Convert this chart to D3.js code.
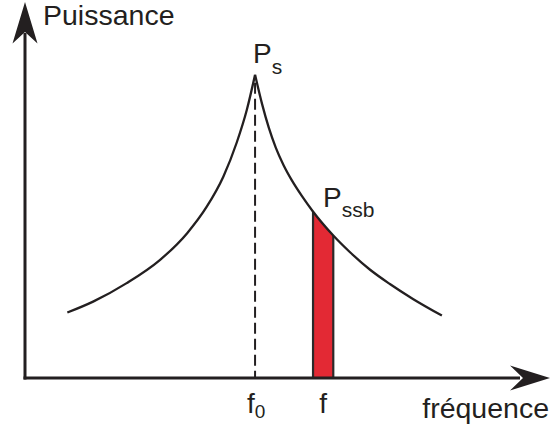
<!DOCTYPE html>
<html>
<head>
<meta charset="utf-8">
<script src="https://cdn.jsdelivr.net/npm/d3@7"></script>
<style>
  html, body { margin: 0; padding: 0; background: #fff; }
  svg { display: block; }
  text { font-family: "Liberation Sans", Arial, Helvetica, sans-serif; fill: #231f20; }
</style>
</head>
<body>
<svg id="chart" width="555" height="430"></svg>
<script>
// Spectrum around the carrier: left and right branches of the power curve
const freqLeft   = [0.92, 1.48, 2.21, 2.93, 3.52, 3.95, 4.31, 4.60, 4.82, 5.00];
const powerLeft  = [2.16, 2.52, 3.13, 3.89, 4.77, 5.65, 6.64, 7.76, 8.84, 10.0];
const freqRight  = [5.00, 5.15, 5.30, 5.45, 5.62, 5.80, 6.02, 6.25, 6.70, 7.07, 7.50, 7.93, 8.44, 9.06];
const powerRight = [10.0, 9.05, 8.25, 7.60, 7.02, 6.52, 6.00, 5.51, 4.70, 4.14, 3.57, 3.10, 2.60, 2.06];

// Carrier frequency and the 1 Hz band at offset f
const carrierFreq = 5.0;
const bandFreq = [6.26, 6.70];

// Axis extents (arbitrary units)
const freqMax = 11.41;
const powerMax = 12.37;

const axisColor = "#231f20";
const bandColor = "#e32934";

const svg = d3.select("#chart");

const x = d3.scaleLinear().domain([0, freqMax]).range([25, 550]);
const y = d3.scaleLinear().domain([0, powerMax]).range([378, 3]);

const left = freqLeft.map((f, i) => ({ f, p: powerLeft[i] }));
const right = freqRight.map((f, i) => ({ f, p: powerRight[i] }));

const line = d3.line().x(d => x(d.f)).y(d => y(d.p)).curve(d3.curveMonotoneX);
const area = d3.area().x(d => x(d.f)).y0(y(0)).y1(d => y(d.p)).curve(d3.curveMonotoneX);

// Band under the curve: a rectangle clipped by the area below the right branch
const defs = svg.append("defs");
defs.append("clipPath").attr("id", "under-right")
  .append("path").attr("d", area(right));

svg.append("rect")
  .attr("clip-path", "url(#under-right)")
  .attr("x", x(bandFreq[0]))
  .attr("y", y(powerMax))
  .attr("width", x(bandFreq[1]) - x(bandFreq[0]))
  .attr("height", y(0) - y(powerMax))
  .attr("fill", bandColor);

// Band sides, clipped to the area under the curve
bandFreq.forEach(f => {
  svg.append("line")
    .attr("clip-path", "url(#under-right)")
    .attr("x1", x(f)).attr("x2", x(f))
    .attr("y1", y(powerMax)).attr("y2", y(0))
    .attr("stroke", "#2b2a2a").attr("stroke-width", 2.2);
});

// Dashed line from the peak down to the axis
svg.append("line")
  .attr("x1", x(carrierFreq)).attr("x2", x(carrierFreq))
  .attr("y1", y(d3.max(powerLeft)) + 8).attr("y2", y(0))
  .attr("stroke", axisColor).attr("stroke-width", 2)
  .attr("stroke-dasharray", "11,5");

// Power curve
[left, right].forEach(branch => {
  svg.append("path")
    .attr("d", line(branch))
    .attr("fill", "none")
    .attr("stroke", axisColor)
    .attr("stroke-width", 2.3);
});

// Axes
svg.append("line")
  .attr("x1", x(0)).attr("x2", x(0))
  .attr("y1", y(0) + 1.5).attr("y2", y(powerMax) + 30)
  .attr("stroke", axisColor).attr("stroke-width", 3);
svg.append("line")
  .attr("x1", x(0) - 1.5).attr("x2", x(freqMax) - 30)
  .attr("y1", y(0)).attr("y2", y(0))
  .attr("stroke", axisColor).attr("stroke-width", 3);

// Arrowheads
const ax = x(0), ay = y(powerMax);
svg.append("path")
  .attr("d", `M${ax},${ay - 1} L${ax + 12.5},${ay + 40.5} L${ax},${ay + 29} L${ax - 12.5},${ay + 40.5} Z`)
  .attr("fill", axisColor);
const bx = x(freqMax), by = y(0);
svg.append("path")
  .attr("d", `M${bx},${by} L${bx - 40},${by - 12.5} L${bx - 27},${by} L${bx - 40},${by + 12.5} Z`)
  .attr("fill", axisColor);

// Axis titles
svg.append("text").attr("x", 43).attr("y", 25)
  .style("font-size", "28.5px").text("Puissance");
svg.append("text").attr("x", 549).attr("y", 418)
  .attr("text-anchor", "end")
  .style("font-size", "28.5px").text("fréquence");

// Peak and band labels
const ps = svg.append("text").attr("x", x(carrierFreq) - 2).attr("y", 63)
  .style("font-size", "28px");
ps.append("tspan").text("P");
ps.append("tspan").attr("dy", 11).style("font-size", "21px").text("s");

const pssb = svg.append("text").attr("x", 323).attr("y", 207)
  .style("font-size", "28px");
pssb.append("tspan").text("P");
pssb.append("tspan").attr("dy", 9.5).style("font-size", "21px").text("ssb");

// Frequency marks under the axis
const f0 = svg.append("text").attr("x", x(carrierFreq) - 8).attr("y", 413)
  .style("font-size", "28px");
f0.append("tspan").text("f");
f0.append("tspan").attr("dy", 5).style("font-size", "19px").text("0");

svg.append("text").attr("x", (x(bandFreq[0]) + x(bandFreq[1])) / 2).attr("y", 413)
  .attr("text-anchor", "middle")
  .style("font-size", "28px").text("f");
</script>
</body>
</html>
